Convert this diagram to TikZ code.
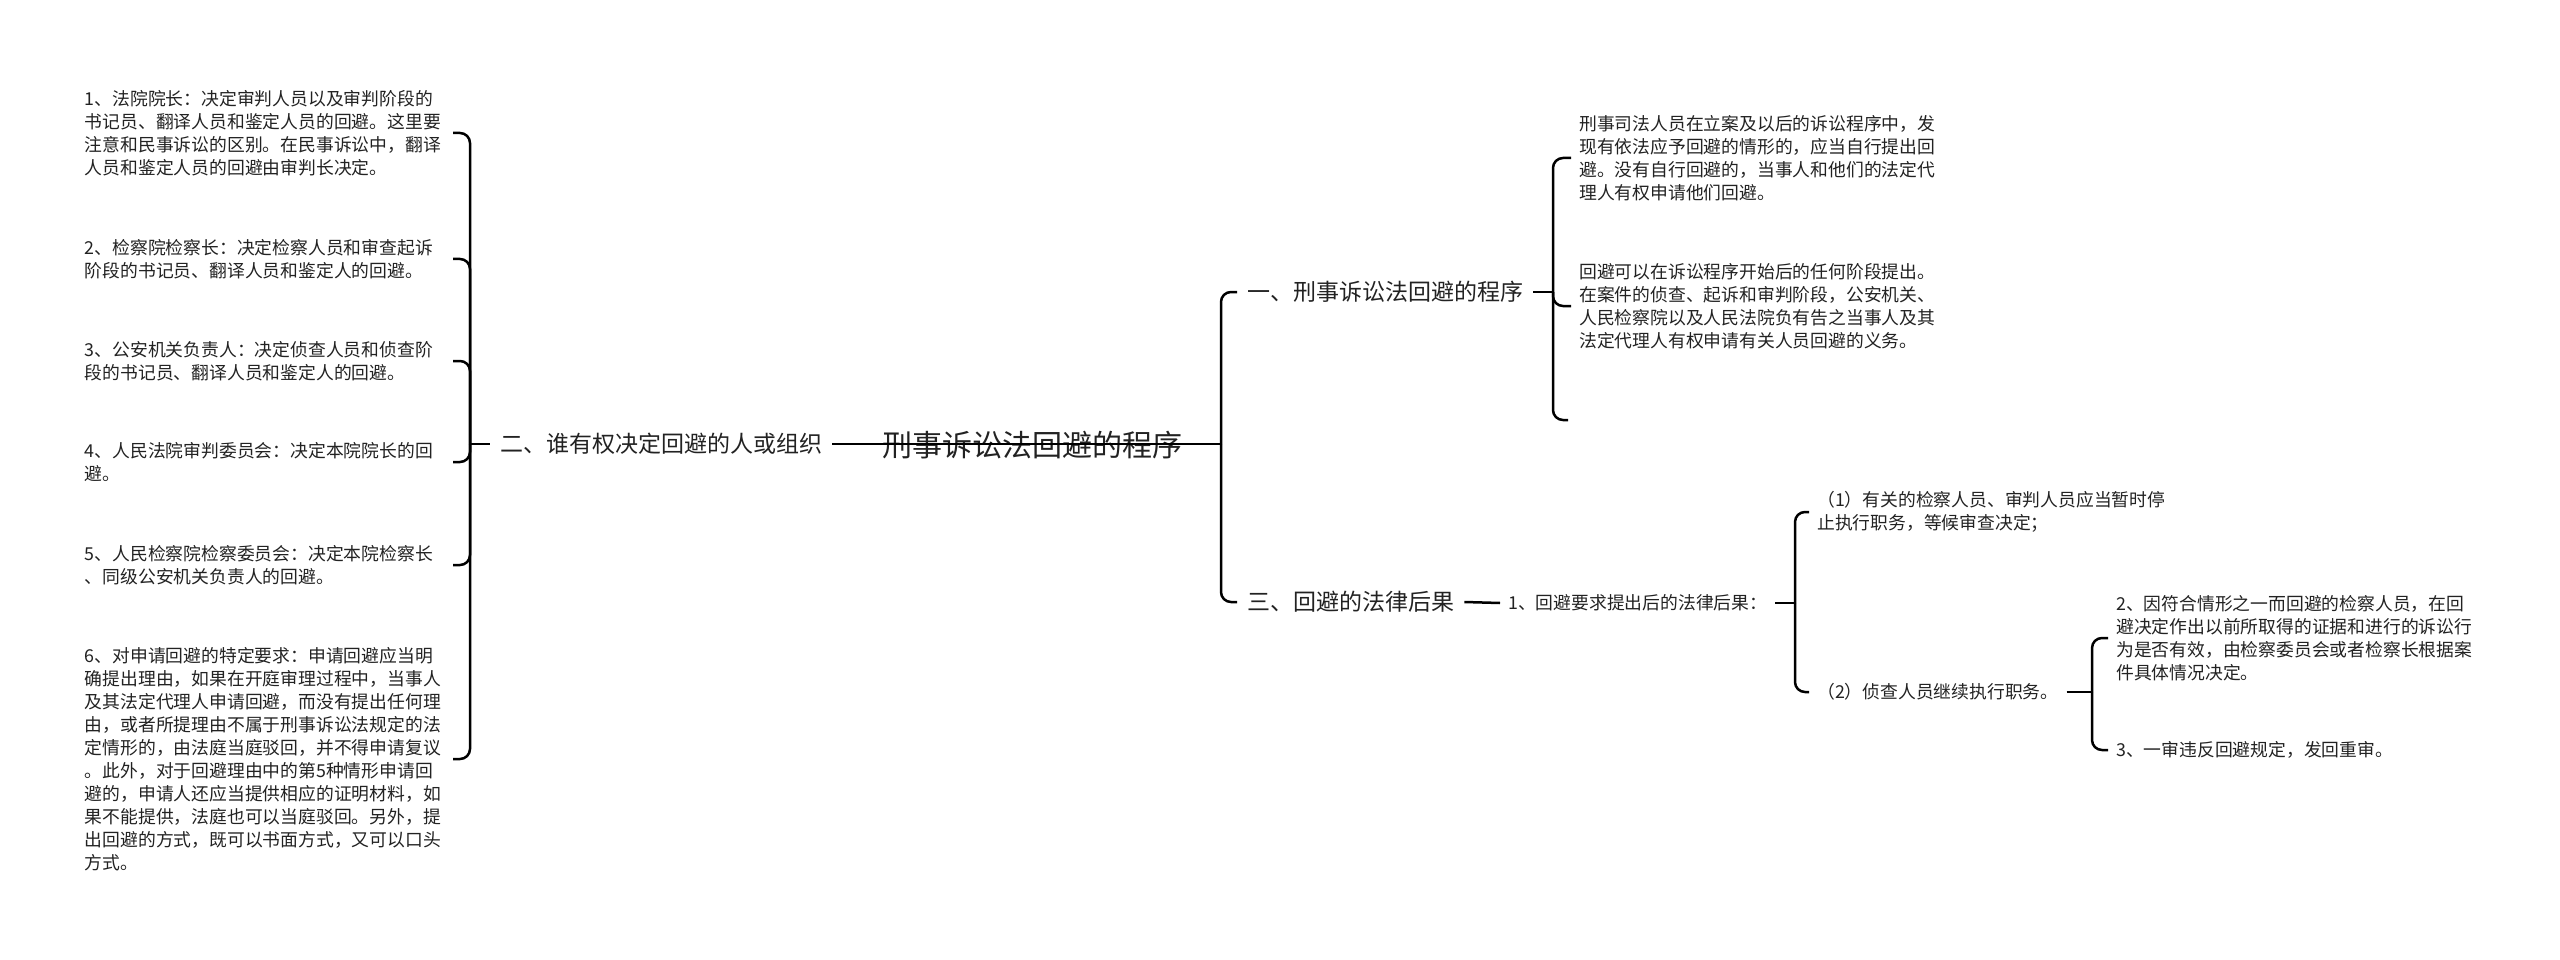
\documentclass[tikz,border=0pt]{standalone}
\usepackage{fontspec}
\newfontfamily\cjk{Noto Sans CJK SC}
\definecolor{mapink}{RGB}{34,34,34}
\newcommand{\leafsize}{\fontsize{17.8pt}{23pt}\selectfont}

\begin{document}
\begin{tikzpicture}[x=1pt,y=-1pt, every node/.style={font=\cjk,text=mapink}]
    \tikzset{rootnode/.style={inner xsep=10pt,inner ysep=4pt,font=\cjk\fontsize{30pt}{36pt}\selectfont}}
    \tikzset{secnode/.style={inner xsep=10pt,inner ysep=4pt,font=\cjk\fontsize{23pt}{28pt}\selectfont}}
    \tikzset{leaf/.style={align=left,inner xsep=8pt,inner ysep=3pt,font=\cjk\leafsize}}
    \tikzset{link/.style={draw=black,line width=2.5pt,rounded corners=10pt}}

    \useasboundingbox (0,0) rectangle (2560,960);

    % Root
    \node[rootnode] (root) at (1032,445) {刑事诉讼法回避的程序};
    \node[secnode] (sec2) at (661,444) {二、谁有权决定回避的人或组织};
    \node[secnode,anchor=west] (sec1) at (1237,292) {一、刑事诉讼法回避的程序};
    \node[secnode,anchor=west] (sec3) at (1237,602) {三、回避的法律后果};
    \coordinate (j0) at (1221,444);
    \draw[link] (sec2.east) -- (j0);
    \draw[link] (j0) |- (sec1.west);
    \draw[link] (j0) |- (sec3.west);

    % Left: who decides
    \node[leaf,text width=360pt,anchor=east] (d1) at (453,133) {1、法院院长：决定审判人员以及审判阶段的\\书记员、翻译人员和鉴定人员的回避。这里要\\注意和民事诉讼的区别。在民事诉讼中，翻译\\人员和鉴定人员的回避由审判长决定。};
    \node[leaf,text width=360pt,anchor=east] (d2) at (453,259) {2、检察院检察长：决定检察人员和审查起诉\\阶段的书记员、翻译人员和鉴定人的回避。};
    \node[leaf,text width=360pt,anchor=east] (d3) at (453,361) {3、公安机关负责人：决定侦查人员和侦查阶\\段的书记员、翻译人员和鉴定人的回避。};
    \node[leaf,text width=360pt,anchor=east] (d4) at (453,462) {4、人民法院审判委员会：决定本院院长的回\\避。};
    \node[leaf,text width=360pt,anchor=east] (d5) at (453,565) {5、人民检察院检察委员会：决定本院检察长\\、同级公安机关负责人的回避。};
    \node[leaf,text width=360pt,anchor=east] (d6) at (453,759) {6、对申请回避的特定要求：申请回避应当明\\确提出理由，如果在开庭审理过程中，当事人\\及其法定代理人申请回避，而没有提出任何理\\由，或者所提理由不属于刑事诉讼法规定的法\\定情形的，由法庭当庭驳回，并不得申请复议\\。此外，对于回避理由中的第5种情形申请回\\避的，申请人还应当提供相应的证明材料，如\\果不能提供，法庭也可以当庭驳回。另外，提\\出回避的方式，既可以书面方式，又可以口头\\方式。};
    \coordinate (j2) at (470,444);
    \draw[link] (sec2.west) -- (j2);
    \foreach \d in {d1,d2,d3,d4,d5,d6}
        \draw[link] (j2) |- (\d.east);

    % Right top: procedure
    \node[leaf,anchor=west] (c11) at (1571,158) {刑事司法人员在立案及以后的诉讼程序中，发\\现有依法应予回避的情形的，应当自行提出回\\避。没有自行回避的，当事人和他们的法定代\\理人有权申请他们回避。};
    \node[leaf,anchor=west] (c12) at (1571,306) {回避可以在诉讼程序开始后的任何阶段提出。\\在案件的侦查、起诉和审判阶段，公安机关、\\人民检察院以及人民法院负有告之当事人及其\\法定代理人有权申请有关人员回避的义务。};
    \coordinate (c13) at (1568,420);
    \coordinate (j1) at (1553,292);
    \draw[link] (sec1.east) -- (j1);
    \draw[link] (j1) |- (c11.west);
    \draw[link] (j1) |- (c12.west);
    \draw[link] (j1) |- (c13);

    % Right bottom: consequences
    \node[leaf,anchor=west] (r1) at (1500,603) {1、回避要求提出后的法律后果：};
    \draw[link] (sec3.east) -- (r1.west);
    \node[leaf,anchor=west] (r11) at (1809,512) {（1）有关的检察人员、审判人员应当暂时停\\止执行职务，等候审查决定；};
    \node[leaf,anchor=west] (r12) at (1809,692) {（2）侦查人员继续执行职务。};
    \coordinate (j3) at (1795,603);
    \draw[link] (r1.east) -- (j3);
    \draw[link] (j3) |- (r11.west);
    \draw[link] (j3) |- (r12.west);

    \node[leaf,anchor=west] (r121) at (2108,638) {2、因符合情形之一而回避的检察人员，在回\\避决定作出以前所取得的证据和进行的诉讼行\\为是否有效，由检察委员会或者检察长根据案\\件具体情况决定。};
    \node[leaf,anchor=west] (r122) at (2108,750) {3、一审违反回避规定，发回重审。};
    \coordinate (j4) at (2092,692);
    \draw[link] (r12.east) -- (j4);
    \draw[link] (j4) |- (r121.west);
    \draw[link] (j4) |- (r122.west);
\end{tikzpicture}
\end{document}
